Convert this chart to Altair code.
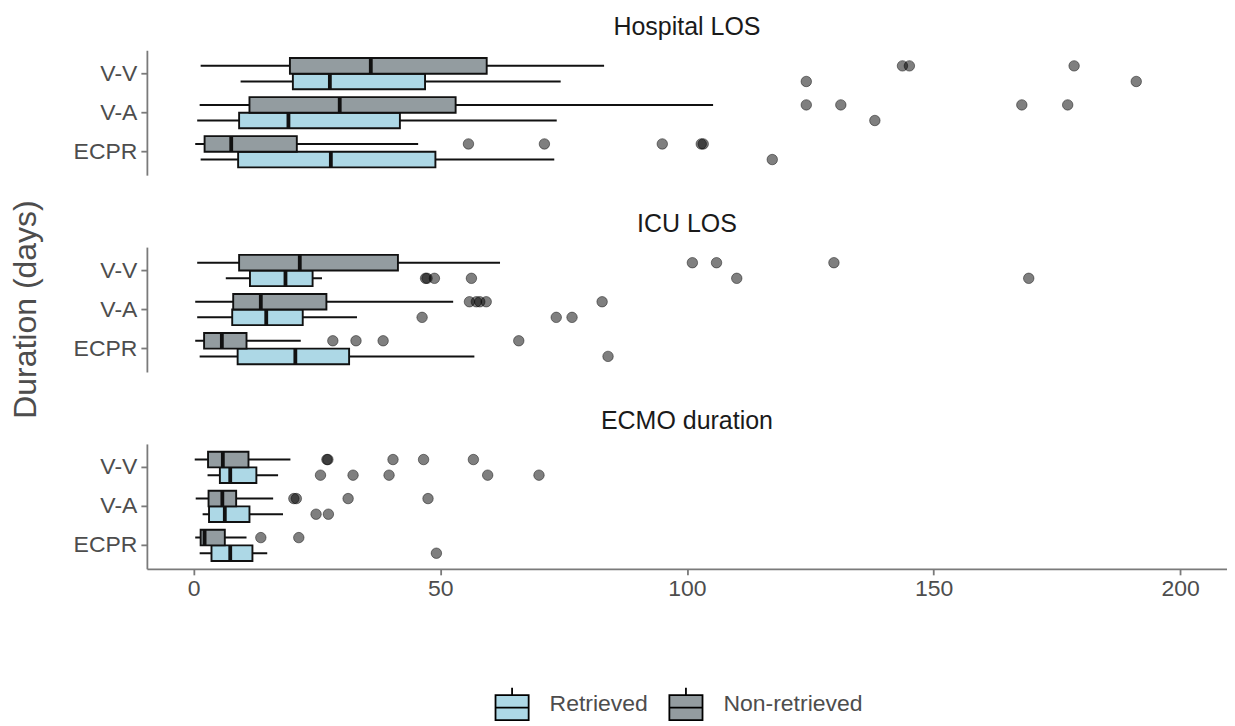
import altair as alt
import pandas as pd

MEASURES = ["Hospital LOS", "ICU LOS", "ECMO duration"]
MODES = ["V-V", "V-A", "ECPR"]
GROUPS = ["Retrieved", "Non-retrieved"]
COLORS = ["#ADD8E6", "#939CA0"]
X_TICKS = [0, 50, 100, 150, 200]

# five-number summaries per mode (V-V, V-A, ECPR): whisker low, Q1, median, Q3, whisker high
HOSP_RET = [[9.5, 20.1, 27.6, 46.9, 74.4], [0.7, 9.2, 19.2, 41.8, 73.6], [1.4, 9.0, 27.8, 49.0, 73.1]]
HOSP_NONRET = [[1.4, 19.5, 35.9, 59.4, 83.2], [1.2, 11.3, 29.6, 53.1, 105.3], [0.3, 2.2, 7.6, 20.9, 45.5]]
HOSP_RET_OUT = [[124.2, 191.1], [138.1], [117.3]]
HOSP_NONRET_OUT = [[143.7, 145.1, 178.5], [124.2, 131.2, 167.9, 177.2], [55.7, 71.1, 95.0, 102.9, 103.3]]

ICU_RET = [[6.5, 11.4, 18.6, 24.1, 26.0], [0.7, 7.8, 14.7, 22.1, 33.1], [1.2, 8.9, 20.6, 31.5, 56.9]]
ICU_NONRET = [[0.7, 9.2, 21.5, 41.4, 62.1], [0.3, 8.0, 13.6, 26.9, 52.6], [0.3, 2.1, 5.7, 10.7, 21.7]]
ICU_RET_OUT = [[47.0, 47.3, 48.8, 56.3, 110.1, 169.3], [46.3, 73.5, 76.7], [84.0]]
ICU_NONRET_OUT = [[101.1, 106.0, 129.8], [55.9, 57.3, 58.0, 59.3, 82.8], [28.2, 32.9, 38.4, 65.9]]

ECMO_RET = [[2.8, 5.3, 7.4, 12.7, 17.1], [1.8, 3.1, 6.3, 11.3, 18.1], [1.2, 3.6, 7.4, 11.9, 14.9]]
ECMO_NONRET = [[0.2, 2.9, 5.9, 11.1, 19.6], [0.4, 3.0, 5.8, 8.6, 16.1], [0.3, 1.4, 2.2, 6.3, 10.7]]
ECMO_RET_OUT = [[25.7, 32.3, 39.6, 59.6, 70.0], [24.8, 27.3], [49.2]]
ECMO_NONRET_OUT = [[27.0, 27.2, 40.4, 46.6, 56.7], [20.3, 20.8, 31.3, 47.5], [13.6, 21.3]]

FONT = "Liberation Sans"
W, H = 1081, 125
XDOM = [-9.5, 209.5]
AXIS_GREY = "#7a7a7a"
TEXT_GREY = "#4d4d4d"


def build_frames(ret, nonret, ret_out, nonret_out):
    rows, pts = [], []
    for grp, stats, outs in [("Retrieved", ret, ret_out), ("Non-retrieved", nonret, nonret_out)]:
        for mode, s, o in zip(MODES, stats, outs):
            rows.append({"mode": mode, "group": grp, "lo": s[0], "q1": s[1],
                         "med": s[2], "q3": s[3], "hi": s[4]})
            for v in o:
                pts.append({"mode": mode, "group": grp, "value": v})
    return pd.DataFrame(rows), pd.DataFrame(pts)


def panel(title, ret, nonret, ret_out, nonret_out, show_x=False):
    boxes, outs = build_frames(ret, nonret, ret_out, nonret_out)
    xscale = alt.Scale(domain=XDOM, nice=False, zero=False)
    if show_x:
        xaxis = alt.Axis(values=X_TICKS, title=None, grid=False, domainColor=AXIS_GREY,
                         domainWidth=1.8, tickColor=AXIS_GREY, tickWidth=1.8, tickSize=6,
                         labelFontSize=23, labelColor=TEXT_GREY, labelPadding=3)
    else:
        xaxis = None
    yscale = alt.Scale(domain=MODES, paddingInner=0.2, paddingOuter=0.2)
    yaxis = alt.Axis(title=None, domainColor=AXIS_GREY, domainWidth=1.8, tickColor=AXIS_GREY,
                     tickWidth=1.8, tickSize=6, labelFontSize=23, labelColor=TEXT_GREY,
                     labelPadding=4)
    y = alt.Y("mode:N", scale=yscale, axis=yaxis)
    yoff = alt.YOffset("group:N", scale=alt.Scale(domain=["Non-retrieved", "Retrieved"],
                                                  paddingInner=0, paddingOuter=0))
    color = alt.Color("group:N", scale=alt.Scale(domain=GROUPS, range=COLORS),
                      legend=alt.Legend(
                          title=None, orient="none", direction="horizontal",
                          legendX=348, legendY=637,
                          symbolType="M-1,-0.55H1V0.95H-1Z M-1,0.2H1 M0,-0.55V-1",
                          symbolSize=1100, symbolStrokeColor="black", symbolStrokeWidth=1.8,
                          symbolOpacity=1, labelFontSize=23, labelColor=TEXT_GREY,
                          labelOffset=20, columnPadding=17))

    base = alt.Chart(boxes)
    whisk = base.mark_rule(color="#111", strokeWidth=2).encode(
        x=alt.X("lo:Q", scale=xscale, axis=xaxis), x2="hi:Q", y=y, yOffset=yoff)
    box = base.mark_bar(stroke="#111", strokeWidth=1.9, opacity=1).encode(
        x=alt.X("q1:Q", scale=xscale, axis=xaxis), x2="q3:Q", y=y, yOffset=yoff, fill=color)
    med = base.mark_bar(stroke="#111", strokeWidth=3.8, fill="#111").encode(
        x=alt.X("med:Q", scale=xscale, axis=xaxis), x2="med:Q", y=y, yOffset=yoff)
    pts = alt.Chart(outs).mark_circle(size=110, fill="#000", fillOpacity=0.5,
                                      stroke="#000", strokeOpacity=0.45, strokeWidth=1).encode(
        x=alt.X("value:Q", scale=xscale, axis=xaxis), y=y, yOffset=yoff)
    return alt.layer(whisk, box, med, pts).properties(
        width=W, height=H,
        title=alt.Title(text=title, fontSize=25, fontWeight="normal", color="#1a1a1a",
                        anchor="middle", offset=10))


p1 = panel(MEASURES[0], HOSP_RET, HOSP_NONRET, HOSP_RET_OUT, HOSP_NONRET_OUT)
p2 = panel(MEASURES[1], ICU_RET, ICU_NONRET, ICU_RET_OUT, ICU_NONRET_OUT)
p3 = panel(MEASURES[2], ECMO_RET, ECMO_NONRET, ECMO_RET_OUT, ECMO_NONRET_OUT, show_x=True)

chart = alt.vconcat(p1, p2, p3, spacing=72, bounds="flush").properties(
    padding={"left": 2, "top": 7, "right": 0, "bottom": 0},
    title=alt.Title(text="Duration (days)", orient="left", anchor="middle", fontSize=32,
                    fontWeight="normal", color=TEXT_GREY, offset=30, dx=60),
).configure(font=FONT).configure_view(stroke=None)

chart.save("out.html", embed_options={"renderer": "svg", "actions": False})
